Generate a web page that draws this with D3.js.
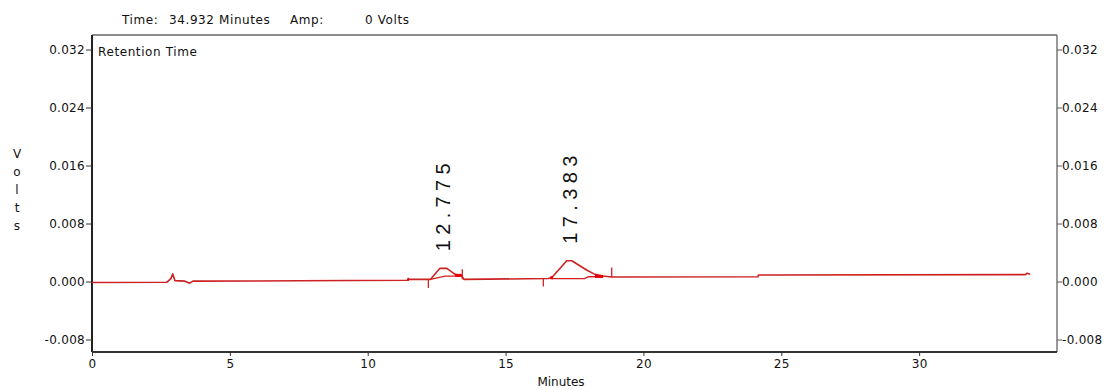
<!DOCTYPE html>
<html>
<head>
<meta charset="utf-8">
<script src="https://cdn.jsdelivr.net/npm/d3@7"></script>
<style>
  body { margin: 0; background: #fff; }
  svg text { font-family: "DejaVu Sans", sans-serif; fill: #111; }
</style>
</head>
<body>
<div id="chart"></div>
<script>
// trace (minutes, volts)
const traceTime  = [0, 2.71, 2.86, 2.93, 3.01, 3.37, 3.50, 3.56, 3.66, 7.5, 11.45, 11.46, 12.28, 12.62, 12.87, 13.17, 13.41, 13.49, 16.54, 16.67, 17.22, 17.40, 17.94, 18.24, 18.54, 18.84, 24.16, 24.17, 33.85, 33.92, 34.0, 34.02];
const traceVolts = [-0.00014, -0.00011, 0.0004, 0.00105, 0.00012, 0.00005, -0.00018, -0.00018, 0.00005, 0.0001, 0.00017, 0.0003, 0.0003, 0.00182, 0.00182, 0.00099, 0.0008, 0.0003, 0.00041, 0.00052, 0.00287, 0.00287, 0.00159, 0.00099, 0.00076, 0.00062, 0.00066, 0.0009, 0.00095, 0.00115, 0.00105, 0.00095];

// integration baselines under the two peaks
const baseline1 = [[12.28, 0.0003], [12.80, 0.00075], [13.41, 0.00075]];
const baseline2 = [[16.67, 0.00041], [17.87, 0.00041], [18.0, 0.00066], [18.54, 0.00068]];

// peak end markers (thick bits)
const markStart = [11.44, 13.17, 16.62, 18.24];
const markEnd   = [11.50, 13.41, 16.72, 18.54];
const markVolts = [0.0003, 0.00085, 0.00052, 0.0007];

// integration event ticks
const eventTime = [12.20, 13.43, 16.37, 18.85];
const eventFrom = [0.0003, 0.0003, 0.0004, 0.00062];
const eventTo   = [-0.0009, 0.0017, -0.0007, 0.00193];

const peakTimes   = [12.775, 17.383];
const peakHeights = [0.00182, 0.00287];

const xTicks = [0, 5, 10, 15, 20, 25, 30];
const yTicks = [-0.008, 0, 0.008, 0.016, 0.024, 0.032];
const headerTime = 34.932;
const headerAmp = 0;

const width = 1111, height = 390;
const plotLeft = 92, plotRight = 1057, plotTop = 35, plotBottom = 352;
const labelFont = "12px";

const svg = d3.select("#chart").append("svg")
    .attr("width", width).attr("height", height);

const x = d3.scaleLinear().domain([0, 35]).range([plotLeft, plotRight]);
const y = d3.scaleLinear().domain([-0.00972, 0.034]).range([plotBottom, plotTop]);

// frame
svg.append("line").attr("x1", plotLeft).attr("x2", plotRight).attr("y1", plotTop).attr("y2", plotTop)
    .attr("stroke", "#666").attr("stroke-width", 1.5);
svg.append("line").attr("x1", plotRight).attr("x2", plotRight).attr("y1", plotTop).attr("y2", plotBottom)
    .attr("stroke", "#777").attr("stroke-width", 1.5);

// axes
const fmt = d => d3.format(".3f")(d).replace("\u2212", "-");
const yLeft = svg.append("g").attr("transform", `translate(${plotLeft},0)`)
    .call(d3.axisLeft(y).tickValues(yTicks).tickFormat(fmt).tickSize(6).tickPadding(1));
const yRight = svg.append("g").attr("transform", `translate(${plotRight},0)`)
    .call(d3.axisRight(y).tickValues(yTicks).tickFormat(fmt).tickSize(5).tickPadding(0));
const xAxis = svg.append("g").attr("transform", `translate(0,${plotBottom})`)
    .call(d3.axisBottom(x).tickValues(xTicks).tickFormat(d3.format("d")).tickSize(4).tickPadding(3));

yLeft.select(".domain").attr("d", `M0,${plotTop}V${plotBottom}`).attr("stroke", "#222").attr("stroke-width", 2);
yRight.select(".domain").remove();
xAxis.select(".domain").attr("d", `M${plotLeft},0H${plotRight}`).attr("stroke", "#333").attr("stroke-width", 2);
svg.selectAll(".tick line").attr("stroke", "#333");
svg.selectAll(".tick text").style("font-size", labelFont).style("font-family", "DejaVu Sans")
    .style("letter-spacing", "0.3px").attr("fill", "#111");
yRight.selectAll(".tick line").attr("stroke", "#555");

// header
const header = svg.append("g").style("font-size", labelFont).style("letter-spacing", "0.6px");
header.append("text").attr("x", 122).attr("y", 24).text("Time:");
header.append("text").attr("x", 169).attr("y", 24).text(`${headerTime} Minutes`);
header.append("text").attr("x", 290).attr("y", 24).text("Amp:");
header.append("text").attr("x", 365).attr("y", 24).text(`${headerAmp} Volts`);

svg.append("text").attr("x", 98).attr("y", 56).style("font-size", labelFont)
    .style("letter-spacing", "0.6px").text("Retention Time");

// axis titles
svg.append("text").attr("x", 561).attr("y", 386)
    .attr("text-anchor", "middle").style("font-size", labelFont).text("Minutes");
svg.selectAll(".ylab").data("Volts".split("")).join("text")
    .attr("class", "ylab")
    .attr("x", 17).attr("y", (d, i) => 158 + i * 18)
    .attr("text-anchor", "middle").style("font-size", labelFont).text(d => d);

// trace
const pts = traceTime.map((t, i) => [t, traceVolts[i]]);
const line = d3.line().x(d => x(d[0])).y(d => y(d[1]));

svg.append("path").datum(pts).attr("d", line)
    .attr("fill", "none").attr("stroke", "#cc2222").attr("stroke-width", 1.6)
    .attr("stroke-linejoin", "round");

[baseline1, baseline2].forEach(b => {
  svg.append("path").datum(b).attr("d", line)
      .attr("fill", "none").attr("stroke", "#d42020").attr("stroke-width", 1.3);
});

svg.selectAll(".mark").data(markStart).join("line")
    .attr("class", "mark")
    .attr("x1", d => x(d)).attr("x2", (d, i) => x(markEnd[i]))
    .attr("y1", (d, i) => y(markVolts[i])).attr("y2", (d, i) => y(markVolts[i]))
    .attr("stroke", "#e80000").attr("stroke-width", 3);

svg.selectAll(".event").data(eventTime).join("line")
    .attr("class", "event")
    .attr("x1", d => x(d)).attr("x2", d => x(d))
    .attr("y1", (d, i) => y(eventFrom[i])).attr("y2", (d, i) => y(eventTo[i]))
    .attr("stroke", "#d42020").attr("stroke-width", 1.3);

// peak labels
svg.selectAll(".peak").data(peakTimes).join("text")
    .attr("class", "peak")
    .attr("transform", (d, i) => `translate(${x(d) + 6},${y(peakHeights[i]) - 17}) rotate(-90)`)
    .attr("textLength", 88).attr("lengthAdjust", "spacing")
    .style("font-family", "Liberation Sans, Arial, sans-serif")
    .style("font-size", "20px").attr("fill", "#555")
    .text(d => d3.format(".3f")(d));
</script>
</body>
</html>
